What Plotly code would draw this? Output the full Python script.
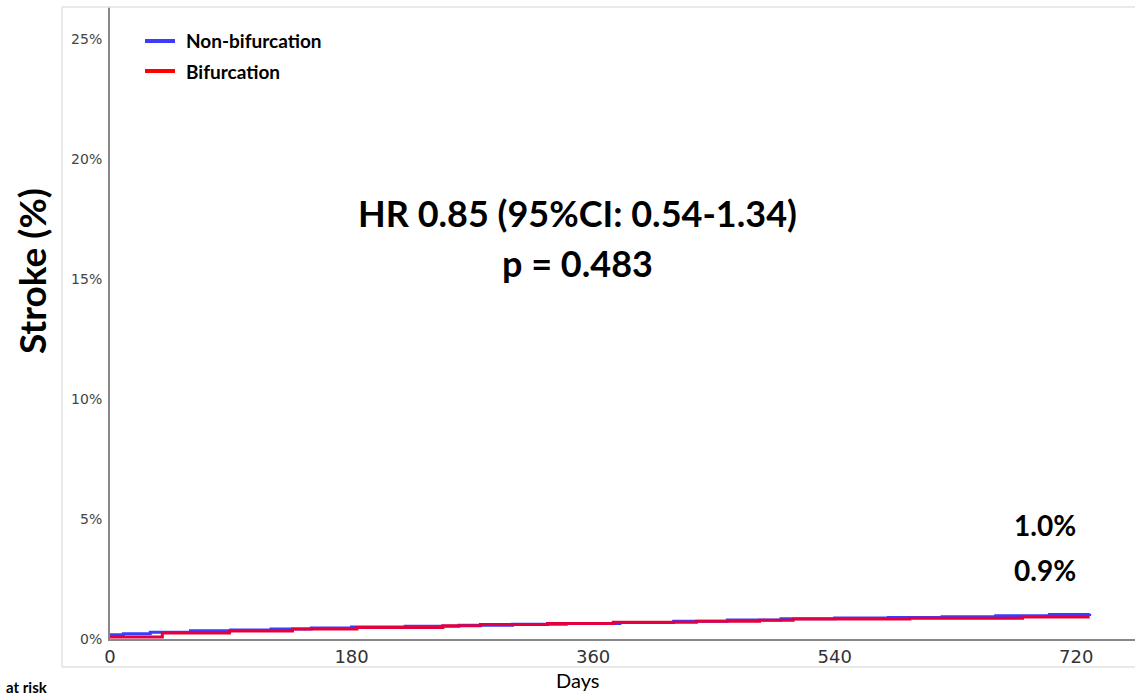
import plotly.graph_objects as go

# Cumulative stroke incidence (%) by group, as step curves
days_nonbif = [0, 10, 30, 60, 90, 120, 150, 180, 220, 260, 300, 340, 380, 420, 460, 500, 540, 580, 620, 660, 700, 730]
stroke_nonbif = [0.18, 0.22, 0.28, 0.34, 0.38, 0.42, 0.46, 0.50, 0.53, 0.57, 0.61, 0.65, 0.69, 0.74, 0.79, 0.84, 0.87, 0.90, 0.93, 0.97, 1.02, 1.05]

days_bif = [0, 39, 89, 136, 184, 248, 276, 326, 375, 437, 484, 509, 596, 680, 730]
stroke_bif = [0.08, 0.25, 0.33, 0.42, 0.48, 0.55, 0.60, 0.65, 0.70, 0.74, 0.78, 0.83, 0.86, 0.92, 0.92]

x_ticks = [0, 180, 360, 540, 720]
y_ticks = [0, 5, 10, 15, 20, 25]
y_tick_text = ["0%", "5%", "10%", "15%", "20%", "25%"]

final_labels = ["1.0%", "0.9%"]
hr_text = "HR 0.85 (95%CI: 0.54-1.34)"
p_text = "p = 0.483"

BLUE = "#3c3cff"
RED = "#ff0000"

fig = go.Figure()
fig.add_trace(go.Scatter(x=days_nonbif, y=stroke_nonbif, mode="lines", line=dict(color=BLUE, width=3, shape="hv"),
                         name="Non-bifurcation", showlegend=False))
fig.add_trace(go.Scatter(x=days_bif, y=stroke_bif, mode="lines", line=dict(color="#e4003c", width=3, shape="hv"),
                         name="Bifurcation", showlegend=False))

W, H = 1135, 695
L, R, T, B = 110, 0, 7, 56
pw, ph = W - L - R, H - T - B
PX_PER_DAY = 1.342
PX_PER_PCT = 24.0

def px(x):
    return (x - L) / pw

def py(y):
    return (H - B - y) / ph

shapes = [
    # light outer frame
    dict(type="line", xref="paper", yref="paper", x0=px(62), x1=px(1135), y0=py(7), y1=py(7), line=dict(color="#e2e2e2", width=1.5)),
    dict(type="line", xref="paper", yref="paper", x0=px(62), x1=px(1135), y0=py(667), y1=py(667), line=dict(color="#e2e2e2", width=1.5)),
    dict(type="line", xref="paper", yref="paper", x0=px(62), x1=px(62), y0=py(7), y1=py(667), line=dict(color="#e2e2e2", width=1.5)),
    # legend keys
    dict(type="line", xref="paper", yref="paper", x0=px(145), x1=px(175), y0=py(41), y1=py(41), line=dict(color=BLUE, width=4)),
    dict(type="line", xref="paper", yref="paper", x0=px(145), x1=px(175), y0=py(71), y1=py(71), line=dict(color=RED, width=4)),
]

def label(text, x, y, size, anchor="center", bold=True, angle=0, family="Lato"):
    return dict(text=("<b>" + text + "</b>") if bold else text, x=px(x), y=py(y), xref="paper", yref="paper",
                xanchor=anchor, yanchor="middle", textangle=angle, showarrow=False,
                font=dict(family=family, size=size, color="#000"))

annotations = [
    label("Non-bifurcation", 184, 41, 19, anchor="left"),
    label("Bifurcation", 184, 71, 19, anchor="left"),
    label(hr_text, 577, 213, 36),
    label(p_text, 577, 263, 36),
    label(final_labels[0], 1045, 525, 28),
    label(final_labels[1], 1045, 570, 28),
    label("Stroke (%)", 31, 271, 37, angle=-90),
    label("Days", 577, 680, 20, bold=False),
    label("at risk", 4, 687, 15, anchor="left"),
]

fig.update_layout(
    width=W, height=H,
    margin=dict(l=L, r=R, t=T, b=B),
    paper_bgcolor="white", plot_bgcolor="white",
    shapes=shapes, annotations=annotations,
    xaxis=dict(range=[0, pw / PX_PER_DAY], tickvals=x_ticks, showgrid=False, zeroline=False,
               showline=True, linecolor="#888888", linewidth=2, ticks="",
               tickfont=dict(family="DejaVu Sans", size=18, color="#333")),
    yaxis=dict(range=[0, ph / PX_PER_PCT], tickvals=y_ticks, ticktext=y_tick_text, showgrid=False, zeroline=False,
               showline=True, linecolor="#888888", linewidth=2, ticks="", ticklabelstandoff=3,
               tickfont=dict(family="DejaVu Sans", size=14, color="#444")),
    showlegend=False,
)

fig.write_html("out.html")
